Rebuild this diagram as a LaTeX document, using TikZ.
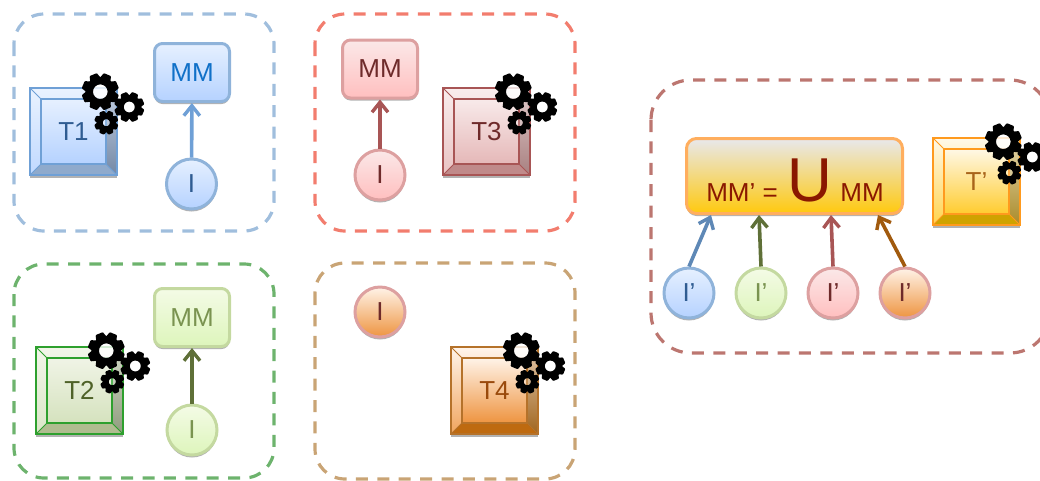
\documentclass[tikz,border=0pt]{standalone}
\usepackage{fontspec}
\setmainfont{Liberation Sans}
\usetikzlibrary{arrows.meta,shadows,calc}
\definecolor{bLine}{HTML}{6FA0D6}\definecolor{bTop}{HTML}{E6F0FF}\definecolor{bBot}{HTML}{B5D2FF}\definecolor{bBottom}{HTML}{8FAACC}\definecolor{bRight}{HTML}{7488A5}\definecolor{bText}{HTML}{2F5C92}
\definecolor{gLine}{HTML}{2EA02E}\definecolor{gTop}{HTML}{F0F4E6}\definecolor{gBot}{HTML}{D5E2BE}\definecolor{gBottom}{HTML}{B0BC90}\definecolor{gRight}{HTML}{8F9C7E}\definecolor{gText}{HTML}{4F6228}
\definecolor{rLine}{HTML}{A85555}\definecolor{rTop}{HTML}{F8EAEA}\definecolor{rBot}{HTML}{E5B8B8}\definecolor{rBottom}{HTML}{C08A8A}\definecolor{rRight}{HTML}{A88080}\definecolor{rText}{HTML}{6E2A2A}
\definecolor{oLine}{HTML}{B5722A}\definecolor{oTop}{HTML}{FFF3E8}\definecolor{oBot}{HTML}{EE9440}\definecolor{oBottom}{HTML}{BE6A10}\definecolor{oRight}{HTML}{A0651F}\definecolor{oText}{HTML}{9A4A0C}
\definecolor{yLine}{HTML}{FF9A1E}\definecolor{yTop}{HTML}{FFF8E6}\definecolor{yBot}{HTML}{FFCC2E}\definecolor{yBottom}{HTML}{CFA300}\definecolor{yRight}{HTML}{A98B2A}\definecolor{yText}{HTML}{A8641A}
\definecolor{blueEdge}{HTML}{8FB3DA}\definecolor{mmBlue}{HTML}{1070C8}
\definecolor{greenEdge}{HTML}{C4D9A0}\definecolor{greenTop}{HTML}{F4FBE6}\definecolor{greenBot}{HTML}{DDF5BB}\definecolor{greenText}{HTML}{7A9350}\definecolor{greenArrow}{HTML}{5F7038}
\definecolor{redEdge}{HTML}{DDA0A0}\definecolor{redTop}{HTML}{FBE8E8}\definecolor{redBot}{HTML}{FFBFBF}
\definecolor{bigText}{HTML}{8A1800}\definecolor{bigEdge}{HTML}{FFAE5E}\definecolor{bigBot}{HTML}{FFC90E}\definecolor{bigTop}{HTML}{E8E8EC}
\definecolor{panelB}{HTML}{A0BEDD}\definecolor{panelR}{HTML}{F27D6E}\definecolor{panelG}{HTML}{6DB36D}\definecolor{panelT}{HTML}{C9A475}\definecolor{panelM}{HTML}{BC7670}
\tikzset{
 x=1pt,y=-1pt,
 softshadow/.style={drop shadow={shadow xshift=0pt,shadow yshift=-2.5pt,opacity=.3,fill=black}},
 panel/.style={draw=#1,line width=3.2pt,dash pattern=on 12pt off 9.4pt,rounded corners=30pt},
 mmbox/.style={rounded corners=8pt,line width=3pt,minimum width=75pt,minimum height=58pt,inner sep=0,softshadow,font=\fontsize{26}{26}\selectfont},
 circ/.style={circle,line width=3pt,minimum size=50pt,inner sep=0,softshadow,font=\fontsize{26}{26}\selectfont},
 conn/.style={draw=#1,line width=3.6pt,-{Straight Barb[length=10pt,width=16pt,line width=3.4pt]}},
 bevelbox/.style={minimum size=87pt,inner sep=0,outer sep=0,line width=1.2pt},
 blueball/.style={circ,draw=blueEdge,top color=bTop,bottom color=bBot,text=bText},
 greenball/.style={circ,draw=greenEdge,top color=greenTop,bottom color=greenBot,text=greenText},
 redball/.style={circ,draw=redEdge,top color=redTop,bottom color=redBot,text=rText},
 orangeball/.style={circ,draw=redEdge,top color=oTop,bottom color=oBot,text=rText},
}
% x, y, R, hole ratio, hole whitening
\newcommand{\gearshape}[5]{%
 \begin{scope}[shift={(#1,#2)}]
  \pgfmathsetmacro{\gmid}{(0.8+#4)/2*#3}
  \pgfmathsetmacro{\gwid}{(0.8-#4)*#3}
  \fill[white,opacity=#5] (0,0) circle ({#4*#3+.5});
  \draw[black,line width=\gwid pt] (0,0) circle (\gmid);
  \foreach \a in {0,45,...,315}
   \fill[black,rotate=\a+22.5,rounded corners=0.8pt] ({0.7*#3},{-0.3*#3}) -- ({1.0*#3},{-0.21*#3}) -- ({1.0*#3},{0.21*#3}) -- ({0.7*#3},{0.3*#3}) -- cycle;
 \end{scope}}
\newcommand{\gears}[2]{\gearshape{#1+70.3}{#2+3.7}{18.5}{.4}{.8}\gearshape{#1+99.3}{#2+19}{15}{.37}{.8}\gearshape{#1+76.3}{#2+34.7}{12}{.3}{.2}}
% name, left, top, text, colour prefix
\newcommand{\bevelbox}[5]{%
 \node[bevelbox,draw=#5Line,fill=#5Top,anchor=north west,softshadow] (#1) at (#2,#3) {};
 \coordinate (#1a) at ($(#1.north west)+(11,11)$);
 \coordinate (#1b) at ($(#1.north east)+(-11,11)$);
 \coordinate (#1c) at ($(#1.south east)+(-11,-11)$);
 \coordinate (#1d) at ($(#1.south west)+(11,-11)$);
 \fill[top color=#5Top!85!white,bottom color=#5Bot!85!white] (#1.north west) -- (#1.north east) -- (#1.south east) -- (#1.south west) -- cycle;
 \fill[#5Bottom] (#1.south west) -- (#1d) -- (#1c) -- (#1.south east) -- cycle;
 \fill[top color=#5Top!70!#5Right,bottom color=#5Right] (#1.north east) -- (#1b) -- (#1c) -- (#1.south east) -- cycle;
 \filldraw[draw=#5Line,line width=1.2pt,top color=#5Top,bottom color=#5Bot] (#1a) -- (#1b) -- (#1c) -- (#1d) -- cycle;
 \draw[#5Line,line width=1.2pt] (#1.north west) -- (#1.north east) -- (#1.south east) -- (#1.south west) -- cycle;
 \draw[#5Line,line width=1pt] (#1.north west) -- (#1a) (#1.north east) -- (#1b) (#1.south east) -- (#1c) (#1.south west) -- (#1d);
 \node[font=\fontsize{26}{26}\selectfont,text=#5Text] (#1t) at (#1) {#4};
 \gears{#2}{#3}}
\begin{document}
\begin{tikzpicture}
\useasboundingbox (0,0) rectangle (1040,480);
\draw[panel=panelB] (14,14) rectangle (274,231);
\draw[panel=panelR] (315,14) rectangle (575,231);
\draw[panel=panelG] (14,264) rectangle (274,478);
\draw[panel=panelT] (315,263) rectangle (575,479);
\draw[panel=panelM,rounded corners=40pt] (651,80) rectangle (1050,353);
% T1 group
\bevelbox{T1}{30}{88}{T1}{b}
\node[mmbox,draw=blueEdge,top color=bTop,bottom color=bBot,text=mmBlue] (mm1) at (192,72.5) {MM};
\node[blueball] (i1) at (191.5,184) {I};
\draw[conn=bLine] (i1) -- (mm1);
% T3 group
\bevelbox{T3}{443}{88}{T3}{r}
\node[mmbox,draw=redEdge,top color=redTop,bottom color=redBot,text=rText] (mm3) at (380,69) {MM};
\node[redball] (i3) at (380,175) {I};
\draw[conn=rLine] (i3) -- (mm3);
% T2 group
\bevelbox{T2}{36}{347}{T2}{g}
\node[mmbox,draw=greenEdge,top color=greenTop,bottom color=greenBot,text=greenText] (mm2) at (192,317.5) {MM};
\node[greenball] (i2) at (192,430) {I};
\draw[conn=greenArrow] (i2) -- (mm2);
% T4 group
\node[orangeball] (i4) at (380,312) {I};
\bevelbox{T4}{451}{347}{T4}{o}
% merged group
\node[rounded corners=10pt,line width=3pt,draw=bigEdge,top color=bigTop,bottom color=bigBot,minimum width=216pt,minimum height=75pt,inner sep=0,softshadow] (big) at (794.5,176) {};
\node[text=bigText,font=\fontsize{26}{26}\selectfont,anchor=base] (mm0) at (742,201) {MM’ =};
\node[text=bigText,font=\fontsize{62}{62}\selectfont,anchor=base] (cup) at (810,201) {U};
\node[text=bigText,font=\fontsize{26}{26}\selectfont,anchor=base] (mm5) at (862,201) {MM};
\node[blueball] (p1) at (689,293) {I’};
\node[greenball] (p2) at (761,293) {I’};
\node[redball] (p3) at (833,293) {I’};
\node[orangeball] (p4) at (905,293) {I’};
\coordinate (b1) at (711,215);
\coordinate (b2) at (759,215);
\coordinate (b3) at (831,215);
\coordinate (b4) at (878,215);
\draw[conn=bLine!85!black] (p1.north) -- (b1);
\draw[conn=greenArrow] (p2.north) -- (b2);
\draw[conn=rLine] (p3.north) -- (b3);
\draw[conn=oBottom!85!black] (p4.north) -- (b4);
\bevelbox{Tp}{933}{138}{T’}{y}
\end{tikzpicture}
\end{document}
